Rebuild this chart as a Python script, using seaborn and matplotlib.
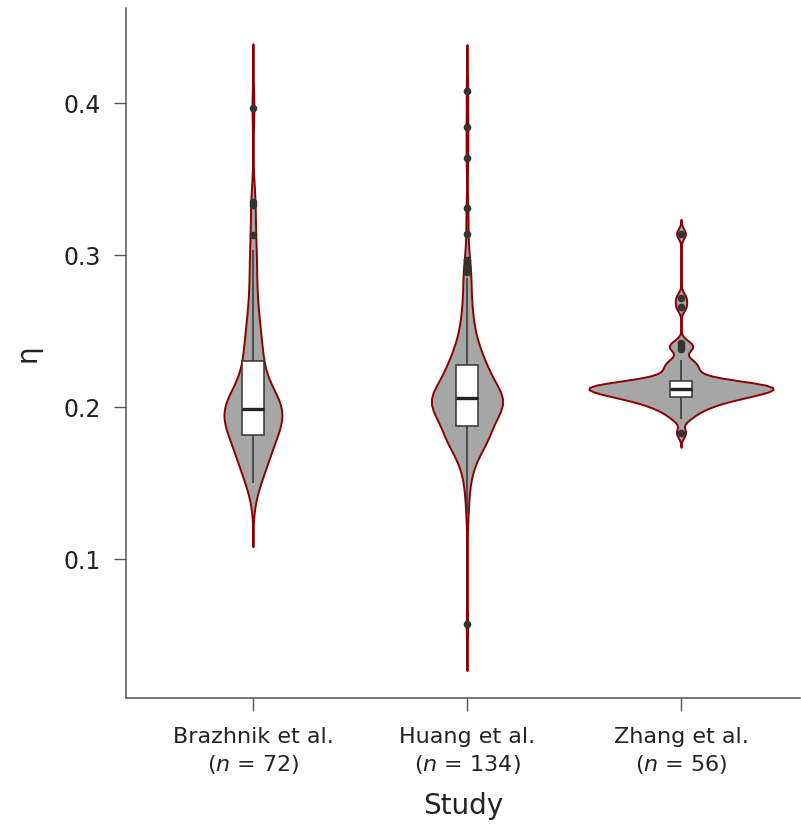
import numpy as np
import pandas as pd
import seaborn as sns
import matplotlib as mpl
import matplotlib.pyplot as plt

# ---------------- data ----------------
categories = ["Brazhnik et al.", "Huang et al.", "Zhang et al."]
sample_sizes = [72, 134, 56]

brazhnik = [0.150, 0.152, 0.155, 0.157, 0.160, 0.162, 0.164, 0.166, 0.168, 0.170,
            0.172, 0.174, 0.175, 0.176, 0.177, 0.178, 0.179, 0.180,
            0.182, 0.185, 0.187, 0.189, 0.190, 0.191, 0.192, 0.193, 0.194, 0.194,
            0.195, 0.195, 0.196, 0.196, 0.197, 0.197, 0.198, 0.198,
            0.200, 0.200, 0.201, 0.201, 0.202, 0.202, 0.203, 0.204, 0.205, 0.206,
            0.208, 0.210, 0.213, 0.216, 0.220, 0.224, 0.227, 0.230,
            0.232, 0.235, 0.238, 0.241, 0.245, 0.249, 0.253, 0.258, 0.263, 0.270,
            0.278, 0.288, 0.296, 0.303, 0.313, 0.333, 0.335, 0.397]

huang = [0.057, 0.130, 0.142, 0.150, 0.155, 0.159, 0.162, 0.165, 0.167, 0.169,
         0.171, 0.172, 0.173, 0.174, 0.175, 0.176, 0.177, 0.178, 0.179, 0.180,
         0.180, 0.181, 0.181, 0.182, 0.182, 0.183, 0.183, 0.184, 0.184, 0.185,
         0.185, 0.186, 0.186, 0.187,
         0.188, 0.190, 0.192, 0.194, 0.195, 0.196, 0.197, 0.197, 0.198, 0.198,
         0.198, 0.199, 0.199, 0.199, 0.199, 0.200, 0.200, 0.200, 0.200, 0.201,
         0.201, 0.201, 0.201, 0.202, 0.202, 0.202, 0.203, 0.203, 0.203, 0.204,
         0.204, 0.205, 0.205,
         0.207, 0.207, 0.207, 0.208, 0.208, 0.208, 0.209, 0.209, 0.209, 0.210,
         0.210, 0.211, 0.211, 0.212, 0.212, 0.213, 0.214, 0.215, 0.216, 0.217,
         0.218, 0.219, 0.219, 0.220, 0.221, 0.221, 0.222, 0.223, 0.224, 0.225,
         0.225, 0.226, 0.226,
         0.228, 0.229, 0.230, 0.231, 0.232, 0.233, 0.234, 0.235, 0.236, 0.237,
         0.239, 0.241, 0.243, 0.245, 0.247, 0.249, 0.251, 0.254, 0.257, 0.260,
         0.263, 0.267, 0.271, 0.275, 0.280, 0.285,
         0.289, 0.293, 0.297, 0.314, 0.331, 0.364, 0.384, 0.408]

zhang = [0.183, 0.192, 0.195, 0.197, 0.199, 0.200, 0.201, 0.202, 0.203, 0.204,
         0.205, 0.205, 0.206, 0.206,
         0.207, 0.207, 0.208, 0.208, 0.209, 0.209, 0.210, 0.210, 0.210, 0.211,
         0.211, 0.211, 0.212, 0.212,
         0.212, 0.213, 0.213, 0.213, 0.214, 0.214, 0.214, 0.215, 0.215, 0.215,
         0.216, 0.216, 0.216, 0.217,
         0.218, 0.219, 0.221, 0.223, 0.225, 0.227, 0.229, 0.231, 0.238, 0.240,
         0.242, 0.266, 0.272, 0.314]

y_ticks = [0.1, 0.2, 0.3, 0.4]
x_title = "Study"
y_title = "η"

# ---------------- build table ----------------
df = pd.DataFrame({
    "study": ([categories[0]] * len(brazhnik) + [categories[1]] * len(huang)
              + [categories[2]] * len(zhang)),
    "eta": brazhnik + huang + zhang,
})


def nrd0(kde):
    """R's bw.nrd0 expressed as a factor of the sample std (as ggplot2 uses)."""
    x = np.asarray(kde.dataset).ravel()
    sd = x.std(ddof=1)
    q75, q25 = np.percentile(x, [75, 25])
    lo = min(sd, (q75 - q25) / 1.34)
    h = 0.9 * lo * len(x) ** (-0.2)
    return h / sd


sns.set_theme(style="white")
plt.rcParams["font.family"] = ["DejaVu Sans"]
plt.rcParams["mathtext.fontset"] = "dejavusans"

fig = plt.figure(figsize=(8.01, 8.38), dpi=100)
ax = fig.add_axes([126 / 801, 1 - 698 / 838, (800 - 126) / 801, (698 - 8) / 838])

# maximal violin width of each study (style, as in the reference)
violin_widths = [0.271, 0.332, 0.860]
for cat, w in zip(categories, violin_widths):
    sns.violinplot(data=df[df["study"] == cat], x="study", y="eta",
                   order=categories, ax=ax, inner=None, cut=3,
                   bw_method=nrd0, density_norm="width", width=w,
                   color="#a6a6a6", saturation=1,
                   linecolor="#8b0000", linewidth=1.4)

sns.boxplot(data=df, x="study", y="eta", order=categories, ax=ax,
            width=0.1, color="white", saturation=1, linecolor="#333333",
            linewidth=1.1, fliersize=4.5,
            flierprops=dict(marker="o", markerfacecolor="#333333",
                            markeredgecolor="#333333"),
            medianprops=dict(linewidth=2.4, color="#222222"),
            capprops=dict(linewidth=0))

ax.set_xlim(-0.593, 2.556)
ax.set_ylim(0.0086, 0.4625)
ax.set_yticks(y_ticks)
ax.set_yticklabels([f"{v:.1f}" for v in y_ticks])
ax.set_xticks(range(len(categories)))
ax.set_xticklabels([f"{c}\n($\\it{{n}}$ = {n})" for c, n in zip(categories, sample_sizes)],
                   linespacing=1.3)

for s in ["top", "right"]:
    ax.spines[s].set_visible(False)
for s in ["left", "bottom"]:
    ax.spines[s].set_color("#555555")
    ax.spines[s].set_linewidth(1.1)

ax.tick_params(axis="both", which="major", direction="out", color="#555555",
               width=1.0, labelcolor="#222222")
ax.tick_params(axis="y", length=9, pad=9, labelsize=17)
ax.tick_params(axis="x", length=9, pad=12, labelsize=16)
ax.tick_params(left=True, bottom=True)

ax.set_xlabel(x_title, fontsize=20, color="#222222", labelpad=12)
ax.set_ylabel(y_title, fontsize=20, color="#222222", labelpad=16)

fig.savefig("out.png", dpi=100)
